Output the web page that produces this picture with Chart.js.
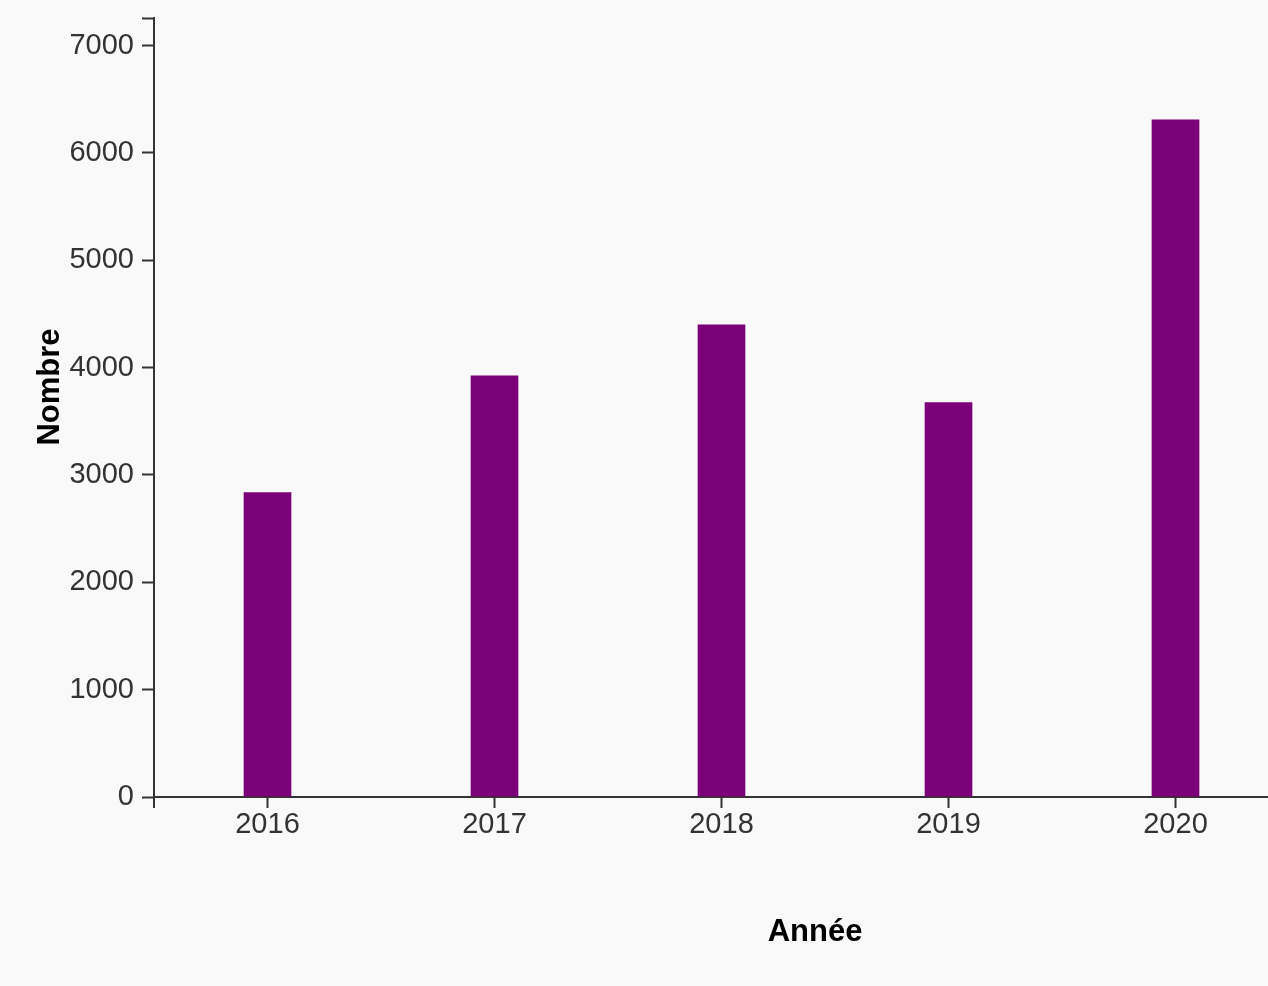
<!DOCTYPE html>
<html lang="fr">
<head>
<meta charset="utf-8">
<title>Nombre par année</title>
<script src="https://cdn.jsdelivr.net/npm/chart.js@4.4.1/dist/chart.umd.min.js"></script>
<style>
  html, body { margin: 0; padding: 0; background: #f9f9f9; overflow: hidden; }
  #wrap { width: 1289px; height: 986px; }
</style>
</head>
<body>
<div id="wrap"><canvas id="chart"></canvas></div>
<script>
// données
const years  = ['2016', '2017', '2018', '2019', '2020'];
const counts = [2839, 3928, 4403, 3677, 6311];
const yTicks = [0, 1000, 2000, 3000, 4000, 5000, 6000, 7000];
const xTitle = 'Année';
const yTitle = 'Nombre';

const axisColor = '#333333';
const barColor  = '#7a0177';
const tickFont  = { family: "'Liberation Sans', Arial, sans-serif", size: 29 };

// petits extras façon d3 : tick extérieur à gauche de l'axe x + titres d'axes
const axisExtras = {
    id: 'axisExtras',
    afterDraw(chart) {
        const { ctx, chartArea } = chart;
        ctx.save();
        ctx.strokeStyle = axisColor;
        ctx.lineWidth = 2;
        ctx.beginPath();
        ctx.moveTo(chartArea.left, chartArea.bottom);
        ctx.lineTo(chartArea.left, chartArea.bottom + 11);
        ctx.stroke();

        ctx.fillStyle = '#000';
        ctx.font = "bold 31px 'Liberation Sans', Arial, sans-serif";
        ctx.textAlign = 'center';
        ctx.textBaseline = 'middle';
        ctx.fillText(xTitle, chartArea.left + chartArea.width * 0.5824, chartArea.bottom + 135);

        ctx.translate(50, chartArea.top + chartArea.height * 0.4737);
        ctx.rotate(-Math.PI / 2);
        ctx.fillText(yTitle, 0, 0);
        ctx.restore();
    }
};

new Chart(document.getElementById('chart'), {
    type: 'bar',
    data: {
        labels: years,
        datasets: [{
            label: yTitle,
            data: counts,
            backgroundColor: barColor,
            borderWidth: 0,
            barPercentage: 0.21,
            categoryPercentage: 1
        }]
    },
    options: {
        responsive: true,
        maintainAspectRatio: false,
        animation: false,
        layout: { padding: { top: 18, left: 0, right: 0, bottom: 0 } },
        plugins: {
            legend: { display: false },
            tooltip: { enabled: false }
        },
        scales: {
            x: {
                offset: true,
                grid: {
                    drawOnChartArea: false,
                    offset: false,
                    tickLength: 11,
                    tickWidth: 2,
                    tickColor: axisColor
                },
                border: { color: axisColor, width: 2 },
                ticks: { color: axisColor, font: tickFont, padding: 0, maxRotation: 0 },
                afterFit(scale) { scale.height = 189; }
            },
            y: {
                min: 0,
                max: Math.max(...counts) * 1.15,
                afterBuildTicks(scale) {
                    scale.ticks = yTicks.map(v => ({ value: v })).concat([{ value: scale.max }]);
                },
                grid: {
                    drawOnChartArea: false,
                    tickLength: 12,
                    tickWidth: 2,
                    tickColor: axisColor
                },
                border: { color: axisColor, width: 2 },
                ticks: {
                    color: axisColor,
                    font: tickFont,
                    padding: 8,
                    callback: v => yTicks.includes(v) ? String(v) : ''
                },
                afterFit(scale) {
                    scale.width = 154;
                    scale.paddingTop = 0;
                    scale.paddingBottom = 0;
                }
            }
        }
    },
    plugins: [axisExtras]
});
</script>
</body>
</html>
